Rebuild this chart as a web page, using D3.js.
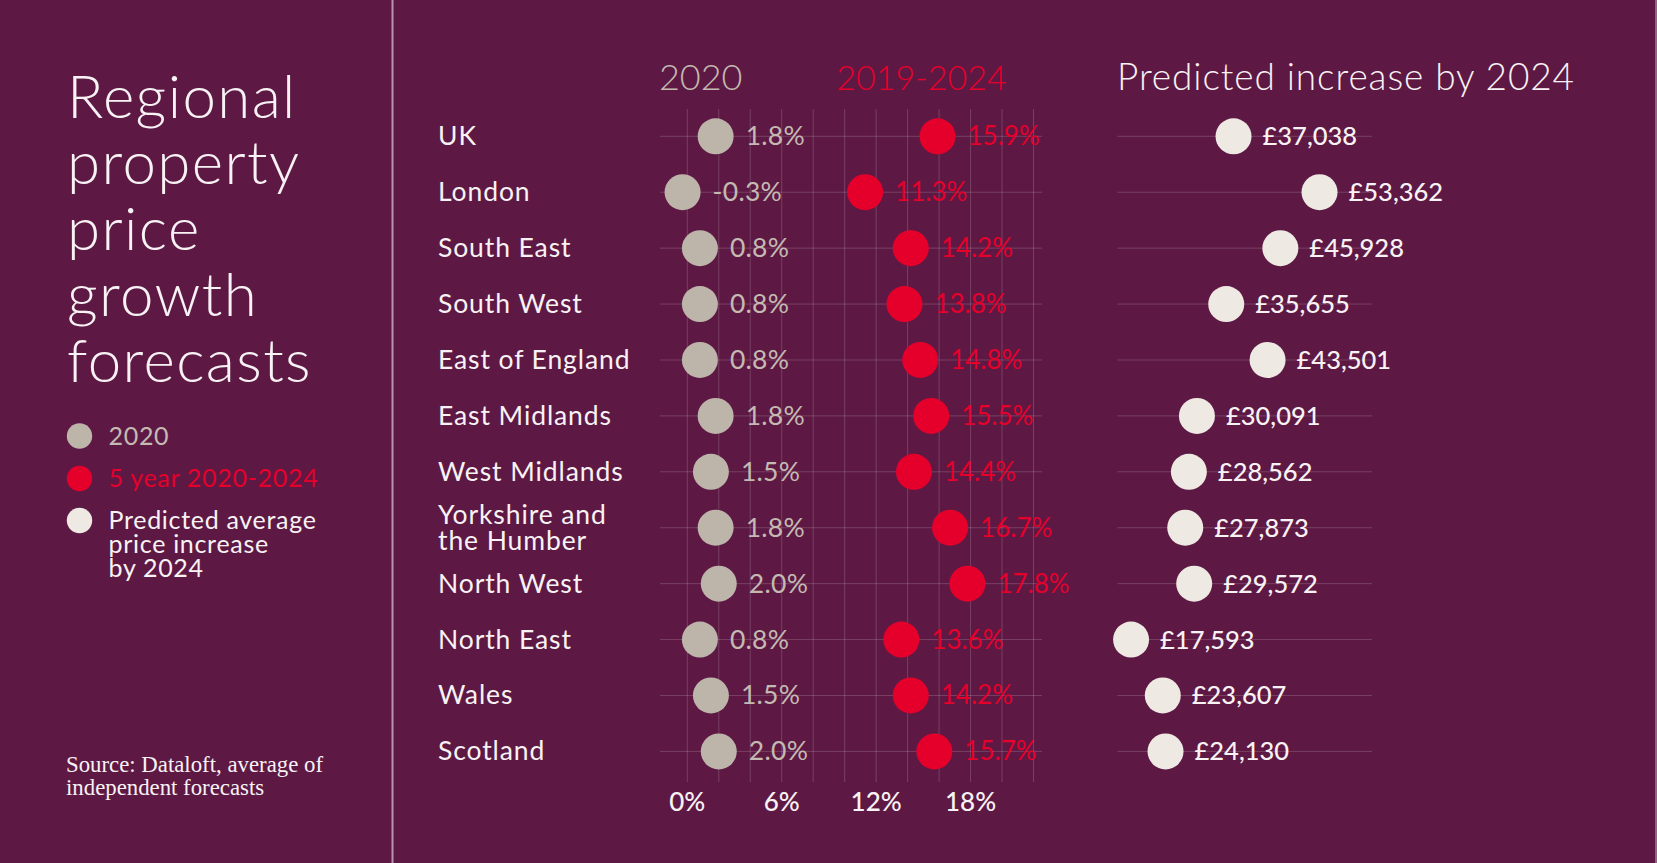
<!DOCTYPE html>
<html>
<head>
<meta charset="utf-8">
<script src="https://cdn.jsdelivr.net/npm/d3@7"></script>
<style>
  html, body { margin: 0; padding: 0; background: #5d1944; }
  svg { display: block; }
</style>
</head>
<body>
<svg id="chart" width="1657" height="863"></svg>
<script>
// ---------------- DATA ----------------
const regions = ["UK", "London", "South East", "South West", "East of England", "East Midlands",
  "West Midlands", "Yorkshire and the Humber", "North West", "North East", "Wales", "Scotland"];
const growth2020 = [1.8, -0.3, 0.8, 0.8, 0.8, 1.8, 1.5, 1.8, 2.0, 0.8, 1.5, 2.0];
const growth5yr = [15.9, 11.3, 14.2, 13.8, 14.8, 15.5, 14.4, 16.7, 17.8, 13.6, 14.2, 15.7];
const increase2024 = [37038, 53362, 45928, 35655, 43501, 30091, 28562, 27873, 29572, 17593, 23607, 24130];
const pctGrid = [0, 2, 4, 6, 8, 10, 12, 14, 16, 18, 20, 22];
const pctTickLabels = [0, 6, 12, 18];
const titleLines = ["Regional", "property", "price", "growth", "forecasts"];
const legendItems = ["2020", "5 year 2020-2024", "Predicted average|price increase|by 2024"];
const headers = ["2020", "2019-2024", "Predicted increase by 2024"];
const sourceLines = ["Source: Dataloft, average of", "independent forecasts"];

// ---------------- STYLE ----------------
const BG = "#5d1944";
const GRAY = "#bdb4aa";
const GRAY_TXT = "#c4bab1";
const RED = "#e4002b";
const CREAM = "#efe9e4";
const WHITE = "#f8f2f4";
const GRID = "rgba(255,255,255,0.17)";
const SANS = "Lato, 'Open Sans', sans-serif";

const svg = d3.select("#chart");
svg.append("rect").attr("width", 1657).attr("height", 863).attr("fill", BG);

// panel separator + edge
svg.append("line").attr("x1", 392.5).attr("x2", 392.5).attr("y1", 0).attr("y2", 863)
  .attr("stroke", "#b894b2").attr("stroke-width", 2);
svg.append("line").attr("x1", 1656).attr("x2", 1656).attr("y1", 0).attr("y2", 863)
  .attr("stroke", "#b894b2").attr("stroke-width", 1.5).attr("opacity", 0.8);

// ---------------- SCALES ----------------
const y = d3.scalePoint().domain(regions).range([136.3, 751.4]);
const xPct = d3.scaleLinear().domain([0, 22]).range([687.3, 1033.5]);
const xGbp = d3.scaleLinear().domain([0, 60000]).range([1038.4, 1354.5]);
const R = 18;

// ---------------- LEFT PANEL ----------------
svg.append("g").selectAll("text").data(titleLines).join("text")
  .attr("x", 67).attr("y", (d, i) => 118.3 + i * 65.85)
  .attr("font-family", SANS).attr("font-weight", 300).attr("font-size", 60)
  .attr("letter-spacing", 1.4)
  .attr("fill", WHITE).text(d => d);

const legColors = [GRAY, RED, CREAM];
const legText = [GRAY_TXT, RED, WHITE];
const legY = [436, 478.5, 520.5];
const leg = svg.append("g");
legendItems.forEach((d, i) => {
  leg.append("circle").attr("cx", 79.5).attr("cy", legY[i]).attr("r", 12.7).attr("fill", legColors[i]);
  const t = leg.append("text").attr("font-family", SANS).attr("font-size", 25)
    .attr("letter-spacing", 0.7).attr("fill", legText[i]);
  d.split("|").forEach((line, j) => {
    t.append("tspan").attr("x", 108.5).attr("y", legY[i] + 8.5 + j * 23.8).text(line);
  });
});

svg.append("g").selectAll("text").data(sourceLines).join("text")
  .attr("x", 66).attr("y", (d, i) => 771.5 + i * 23.5)
  .attr("font-family", "'Liberation Serif', 'DejaVu Serif', serif").attr("font-size", 22.8)
  .attr("fill", WHITE).text(d => d);

// ---------------- HEADERS ----------------
const hdr = svg.append("g").attr("font-family", SANS).attr("font-weight", 300);
hdr.append("text").attr("x", 700.7).attr("y", 90).attr("font-size", 36).attr("text-anchor", "middle").attr("fill", GRAY_TXT).text(headers[0]);
hdr.append("text").attr("x", 921.5).attr("y", 90).attr("font-size", 34).attr("text-anchor", "middle").attr("fill", RED).text(headers[1]);
hdr.append("text").attr("x", 1117).attr("y", 90).attr("font-size", 37).attr("letter-spacing", 0.9).attr("text-anchor", "start").attr("fill", WHITE).text(headers[2]);

// ---------------- GRID ----------------
const grid = svg.append("g").attr("stroke", GRID).attr("stroke-width", 1);
grid.selectAll("line.v").data(pctGrid).join("line").attr("class", "v")
  .attr("x1", d => xPct(d)).attr("x2", d => xPct(d)).attr("y1", 109).attr("y2", 782);
grid.selectAll("line.h").data(regions).join("line").attr("class", "h")
  .attr("x1", 660).attr("x2", 1042).attr("y1", d => y(d)).attr("y2", d => y(d));
grid.selectAll("line.h2").data(regions).join("line").attr("class", "h2")
  .attr("x1", xGbp(15000)).attr("x2", 1372).attr("y1", d => y(d)).attr("y2", d => y(d));

// tick labels
svg.append("g").selectAll("text").data(pctTickLabels).join("text")
  .attr("x", d => xPct(d)).attr("y", 811).attr("text-anchor", "middle")
  .attr("font-family", SANS).attr("font-weight", 500).attr("font-size", 26)
  .attr("fill", WHITE).text(d => d + "%");

// ---------------- ROW LABELS ----------------
const rl = svg.append("g").attr("font-family", SANS).attr("font-size", 26.5)
  .attr("letter-spacing", 0.9).attr("fill", WHITE);
regions.forEach(r => {
  const t = rl.append("text").attr("x", 438);
  if (r === "Yorkshire and the Humber") {
    t.append("tspan").attr("x", 438).attr("y", y(r) - 13.2 + 9).text("Yorkshire and");
    t.append("tspan").attr("x", 438).attr("y", y(r) + 13.2 + 9).text("the Humber");
  } else {
    t.attr("y", y(r) + 9).text(r);
  }
});

// ---------------- DOTS ----------------
const fmtPct = d => d.toFixed(1) + "%";
const fmtGbp = d => "£" + d3.format(",")(d);

const g20 = svg.append("g");
g20.selectAll("circle").data(regions).join("circle")
  .attr("cx", (d, i) => xPct(growth2020[i])).attr("cy", d => y(d)).attr("r", R).attr("fill", GRAY);
g20.selectAll("text").data(regions).join("text")
  .attr("x", (d, i) => xPct(growth2020[i]) + R + 12).attr("y", d => y(d) + 9)
  .attr("font-family", SANS).attr("font-size", 26.5).attr("letter-spacing", 0.3).attr("fill", GRAY_TXT)
  .text((d, i) => fmtPct(growth2020[i]));

const g5 = svg.append("g");
g5.selectAll("circle").data(regions).join("circle")
  .attr("cx", (d, i) => xPct(growth5yr[i])).attr("cy", d => y(d)).attr("r", R).attr("fill", RED);
g5.selectAll("text").data(regions).join("text")
  .attr("x", (d, i) => xPct(growth5yr[i]) + R + 12).attr("y", d => y(d) + 9)
  .attr("font-family", SANS).attr("font-size", 26).attr("fill", RED)
  .text((d, i) => fmtPct(growth5yr[i]));

const gInc = svg.append("g");
gInc.selectAll("circle").data(regions).join("circle")
  .attr("cx", (d, i) => xGbp(increase2024[i])).attr("cy", d => y(d)).attr("r", R).attr("fill", CREAM);
gInc.selectAll("text").data(regions).join("text")
  .attr("x", (d, i) => xGbp(increase2024[i]) + R + 11).attr("y", d => y(d) + 9)
  .attr("font-family", SANS).attr("font-weight", 500).attr("font-size", 25.5).attr("fill", WHITE)
  .text((d, i) => fmtGbp(increase2024[i]));
</script>
</body>
</html>
